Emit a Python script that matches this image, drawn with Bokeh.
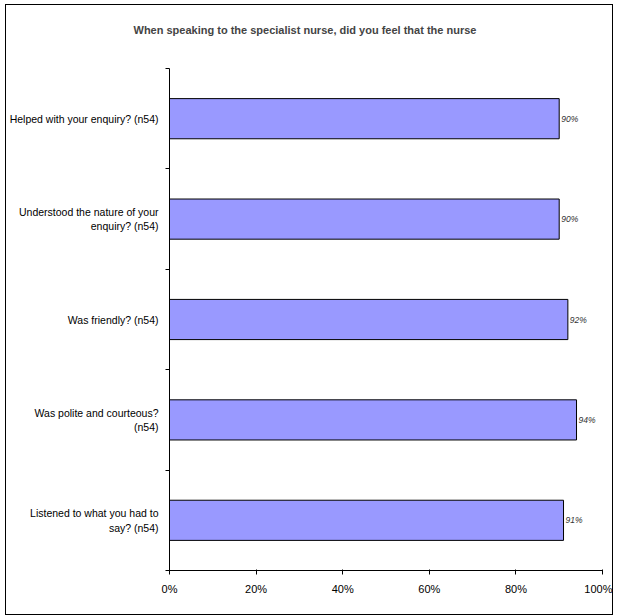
from bokeh.plotting import figure
from bokeh.models import ColumnDataSource, FixedTicker, Range1d, LabelSet, LinearAxis
from bokeh.core.properties import value
from bokeh.embed import file_html
from bokeh.resources import INLINE

title_text = "When speaking to the specialist nurse, did you feel that the nurse"
categories = [
    "Helped with your enquiry? (n54)",
    "Understood the nature of your\nenquiry? (n54)",
    "Was friendly? (n54)",
    "Was polite and courteous?\n(n54)",
    "Listened to what you had to\nsay? (n54)",
]
values = [90, 90, 92, 94, 91]
x_ticks = [0, 20, 40, 60, 80, 100]
x_tick_labels = ["0%", "20%", "40%", "60%", "80%", "100%"]

FONT = "'Liberation Sans Narrow', 'Arial Narrow', 'Liberation Sans', Arial, sans-serif"

n = len(categories)
ypos = [n - i - 0.5 for i in range(n)]
src = ColumnDataSource(dict(y=ypos, v=values, lab=[f"{v}%" for v in values]))

p = figure(width=608, height=611, output_backend="svg", toolbar_location=None,
           x_range=Range1d(0, 100), y_range=Range1d(0, n),
           min_border_left=162, min_border_right=12, min_border_top=63, min_border_bottom=46,
           styles={"border": "1px solid #000", "margin-left": "5px", "margin-top": "4px"})
p.outline_line_color = None
p.xgrid.visible = False
p.ygrid.visible = False

p.hbar(y="y", right="v", left=0, height=0.4, source=src,
       fill_color="#9999FF", line_color="#000000", line_width=1)

p.add_layout(LabelSet(x="v", y="y", text="lab", source=src, x_offset=2,
                      text_font=value(FONT), text_font_size="8.5px", text_font_style="italic",
                      text_baseline="middle", text_color="#333333"))

# x axis (bottom)
xa = p.below[0]
xa.ticker = FixedTicker(ticks=x_ticks)
xa.major_label_overrides = {t: l for t, l in zip(x_ticks, x_tick_labels)}
xa.major_tick_out = 4
xa.major_tick_in = 1
xa.minor_tick_line_color = None
xa.major_label_text_font = FONT
xa.major_label_text_font_size = "11px"
xa.major_label_text_color = "#000000"
xa.major_label_standoff = 8
xa.axis_line_color = "#000000"

# invisible spacer (one white tick, empty label) between the plotting area and the title
spacer = LinearAxis(ticker=FixedTicker(ticks=[50], minor_ticks=[]), axis_line_color=None,
                    major_tick_line_color="#ffffff", minor_tick_line_color=None,
                    major_tick_out=20, major_tick_in=0, minor_tick_out=0,
                    major_label_standoff=0, major_label_overrides={50: ""},
                    major_label_text_font_size="1px")
p.add_layout(spacer, "above")

# y axis: labels at centres, ticks at boundaries
ya = p.left[0]
ya.ticker = FixedTicker(ticks=ypos, minor_ticks=list(range(n + 1)))
ya.major_label_overrides = {y: c for y, c in zip(ypos, categories)}
ya.major_tick_out = 0
ya.major_tick_in = 0
ya.minor_tick_out = 4
ya.minor_tick_in = 0
ya.major_label_text_font = FONT
ya.major_label_text_font_size = "10.5px"
ya.major_label_text_color = "#000000"
ya.major_label_standoff = 7
ya.axis_line_color = "#000000"

p.title.text = title_text
p.title.align = "left"
p.title.text_font = FONT
p.title.text_font_size = "11px"
p.title.text_font_style = "bold"
p.title.offset = -36
p.title.standoff = 26

open("out.html", "w").write(file_html(p, INLINE))
